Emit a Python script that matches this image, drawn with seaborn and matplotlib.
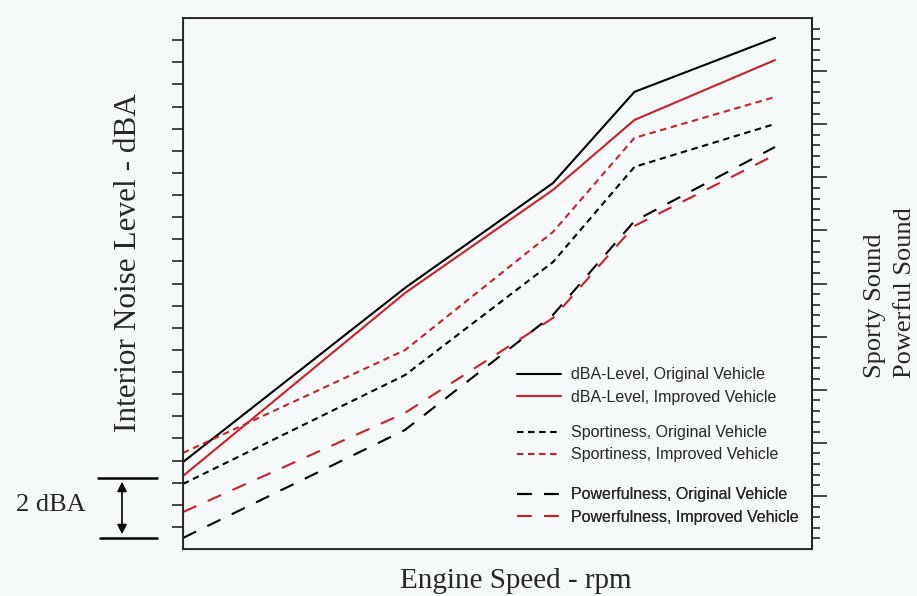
import numpy as np
import pandas as pd
import matplotlib
matplotlib.use("Agg")
import matplotlib.pyplot as plt
import seaborn as sns

# engine speed points (no labels on the axis in the original)
rpm = [1000, 2500, 3500, 4050, 5000]

# left-axis units (one tick = one unit)
dba_original = [3.93, 11.80, 16.54, 20.66, 23.10]
dba_improved = [3.30, 11.57, 16.23, 19.39, 22.10]
sport_original = [2.94, 7.86, 12.97, 17.27, 19.21]
sport_improved = [4.34, 8.99, 14.33, 18.58, 20.43]
power_original = [0.50, 5.38, 10.58, 14.82, 18.17]
power_improved = [1.67, 6.15, 10.44, 14.60, 17.81]

labels = [
    "dBA-Level, Original Vehicle",
    "dBA-Level, Improved Vehicle",
    "Sportiness, Original Vehicle",
    "Sportiness, Improved Vehicle",
    "Powerfulness, Original Vehicle",
    "Powerfulness, Improved Vehicle",
]
series = [dba_original, dba_improved, sport_original,
          sport_improved, power_original, power_improved]

BG = "#f6f9f9"
RED = "#cc1f2b"
colors = ["black", RED, "black", RED, "black", RED]
dashes = [(None), (None), (3.1, 2.2), (3.1, 2.2), (7.0, 6.0), (7.0, 6.0)]

df = pd.DataFrame({
    "rpm": rpm * len(series),
    "value": np.concatenate(series),
    "curve": np.repeat(labels, len(rpm)),
})

sns.set_style("white")
plt.rcParams["font.family"] = ["Liberation Serif", "DejaVu Serif"]

fig = plt.figure(figsize=(9.17, 5.96), dpi=100, facecolor=BG)
ax = fig.add_axes([183 / 917, 47 / 596, 629 / 917, 531 / 596])
ax.set_facecolor(BG)

handles = []
for lab, col, d in zip(labels, colors, dashes):
    sub = df[df["curve"] == lab]
    sns.lineplot(data=sub, x="rpm", y="value", ax=ax, color=col,
                 linewidth=1.5, legend=False)
    ln = ax.lines[-1]
    if d is not None:
        ln.set_dashes(d)
    handles.append(ln)

ax.set_xlim(1000, 5250)
ax.set_ylim(0, 24)
ax.set_xticks([])
ax.set_yticks(range(1, 24))
ax.tick_params(axis="y", direction="out", length=8, width=1.2, labelleft=False)
ax.set_xlabel("")
ax.set_ylabel("")
for s in ax.spines.values():
    s.set_visible(True)
    s.set_color("#222222")
    s.set_linewidth(1.3)

# right-hand scale
ax2 = ax.twinx()
ax2.set_ylim(0, 50)
ax2.set_yticks(range(5, 50, 5))
ax2.set_yticks([v for v in range(1, 50) if v % 5], minor=True)
ax2.tick_params(axis="y", which="major", direction="out", length=11, width=1.2, labelright=False)
ax2.tick_params(axis="y", which="minor", direction="out", length=6, width=1.2, right=True)
ax2.spines["right"].set_linewidth(1.3)
ax2.spines["right"].set_color("#222222")

# legend in three groups
leg_font = {"family": "Liberation Sans", "size": 11.5}
for i, y in enumerate([0.272, 0.163, 0.046]):
    lg = ax.legend(handles[2 * i:2 * i + 2], labels[2 * i:2 * i + 2],
                   loc="lower left", bbox_to_anchor=(0.531, y),
                   frameon=False, prop=leg_font, handlelength=2.75,
                   handletextpad=0.65, labelspacing=0.45, borderpad=0.0,
                   borderaxespad=0.0)
    ax.add_artist(lg)

# axis titles
fig.text(128 / 917, 1 - 263 / 596, "Interior Noise Level - dBA", rotation=90,
         ha="center", va="center", fontsize=22.5)
fig.text(516 / 917, 1 - 581 / 596, "Engine Speed - rpm",
         ha="center", va="center", fontsize=21)
fig.text(875 / 917, 1 - 378 / 596, "Sporty Sound", rotation=90,
         ha="center", va="bottom", fontsize=19)
fig.text(905 / 917, 1 - 378 / 596, "Powerful Sound", rotation=90,
         ha="center", va="bottom", fontsize=19)

# 2 dBA scale bracket
fig.add_artist(plt.Line2D([98 / 917, 157 / 917], [1 - 478 / 596] * 2,
                          color="black", lw=1.8))
fig.add_artist(plt.Line2D([100 / 917, 157 / 917], [1 - 538 / 596] * 2,
                          color="black", lw=1.8))
fig.add_artist(matplotlib.patches.FancyArrowPatch(
    (122 / 917, 1 - 479 / 596), (122 / 917, 1 - 537 / 596),
    transform=fig.transFigure, arrowstyle="<|-|>", mutation_scale=14,
    color="black", lw=1.2))
fig.text(51 / 917, 1 - 505 / 596, "2 dBA", ha="center", va="center", fontsize=19)

fig.savefig("out.png", dpi=100, facecolor=BG)
